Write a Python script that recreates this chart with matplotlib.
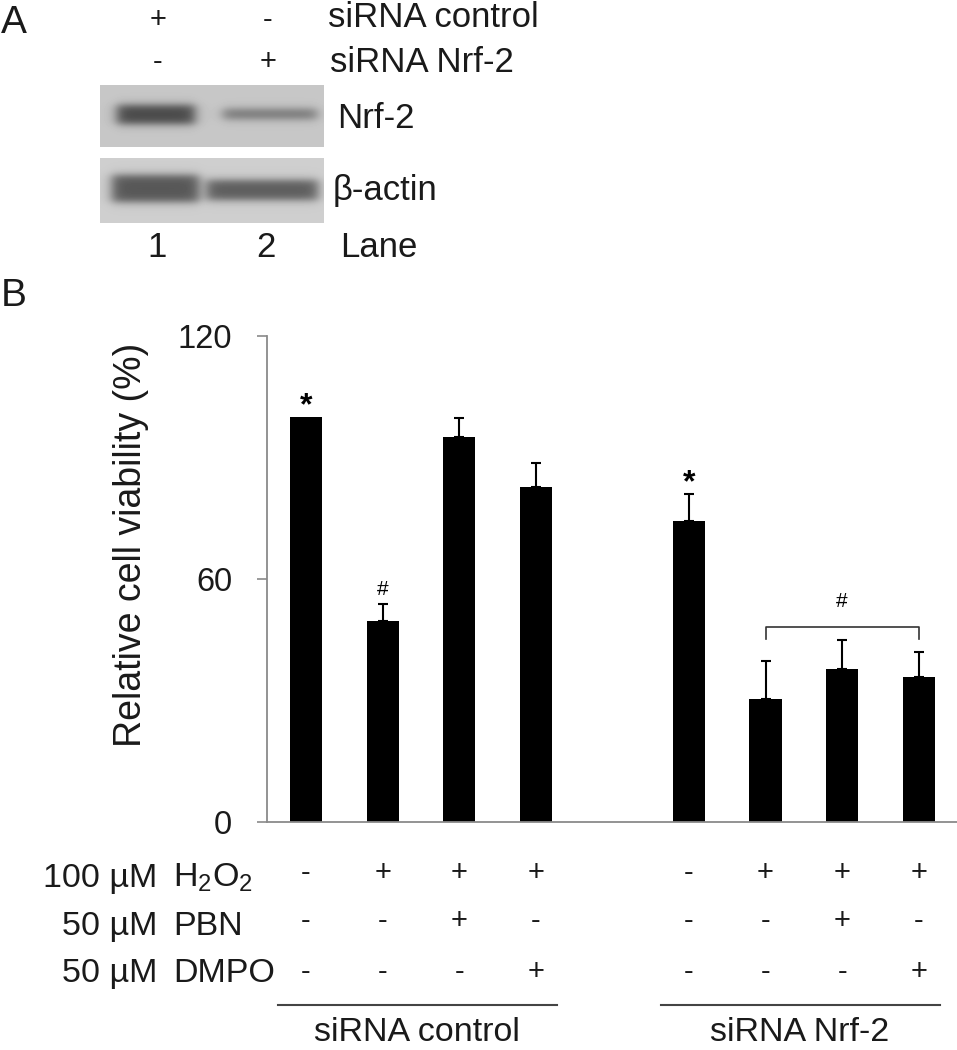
import matplotlib
matplotlib.use("Agg")
import matplotlib.pyplot as plt
import matplotlib.transforms as mtransforms
import numpy as np

plt.rcParams['font.family'] = ['Liberation Sans', 'DejaVu Sans']
plt.rcParams['mathtext.fontset'] = 'custom'
plt.rcParams['mathtext.rm'] = 'Liberation Sans'
plt.rcParams['mathtext.it'] = 'Liberation Sans'

# ---- data (panel B) ----
group_names = ["siRNA control", "siRNA Nrf-2"]
slots = [0, 1, 2, 3, 5, 6, 7, 8]
viability = [100.0, 49.6, 95.0, 82.7, 74.3, 30.3, 37.7, 35.6]
viability_err = [0.0, 4.2, 4.8, 6.0, 6.7, 9.4, 7.1, 6.3]
treat_labels = [("100 µM", r"H$_\mathregular{2}$O$_\mathregular{2}$"),
                ("50 µM", "PBN"),
                ("50 µM", "DMPO")]
h2o2 = ['-', '+', '+', '+', '-', '+', '+', '+']
pbn = ['-', '-', '+', '-', '-', '-', '+', '-']
dmpo = ['-', '-', '-', '+', '-', '-', '-', '+']
star_bars = [0, 4]
hash_bars = [1]
hash_group = [5, 6, 7]

# ---- data (panel A, western blot) ----
lane_numbers = ["1", "2"]
sirna_ctrl = ['+', '-']
sirna_nrf2 = ['-', '+']
blot_names = ["Nrf-2", "β-actin"]

fig = plt.figure(figsize=(9.57, 10.5), dpi=100)

# overlay in pixel coords for the free text and the blot
ov = fig.add_axes([0, 0, 1, 1])
ov.set_xlim(0, 957)
ov.set_ylim(1050, 0)
ov.axis('off')

# main bar chart
ax = fig.add_axes([267 / 957, (1050 - 821.5) / 1050, (957 - 267) / 957, (821.5 - 336) / 1050])
ax.bar(slots, viability, width=0.42, color='black', edgecolor='none', zorder=2)
e_slots = [s for s, e in zip(slots, viability_err) if e > 0]
e_vals = [v for v, e in zip(viability, viability_err) if e > 0]
e_errs = [e for e in viability_err if e > 0]
ax.errorbar(e_slots, e_vals, yerr=[np.zeros(len(e_errs)), e_errs], fmt='none',
            ecolor='black', elinewidth=1.5, capsize=3.6, capthick=1.5, zorder=3)
ax.set_xlim(-0.51, 8.5)
ax.set_ylim(0, 120)
ax.set_yticks([0, 60, 120])
ax.set_xticks([])
for sp in ['top', 'right']:
    ax.spines[sp].set_visible(False)
for sp in ['left', 'bottom']:
    ax.spines[sp].set_color('#8a8a8a')
    ax.spines[sp].set_linewidth(1.3)
ax.tick_params(axis='y', length=7.2, width=1.2, color='#8a8a8a', pad=18,
               labelsize=23.5, labelcolor='#1a1a1a')

for i in star_bars:
    ax.text(slots[i], viability[i] + viability_err[i] + 2.6, '*', ha='center',
            va='center', fontsize=23, fontweight='bold')
for i in hash_bars:
    ax.text(slots[i], viability[i] + viability_err[i] + 3.5, '#', ha='center',
            va='center', fontsize=15)
gx = [slots[i] for i in hash_group]
ax.plot([gx[0], gx[0], gx[-1], gx[-1]], [45.1, 48, 48, 45.1], color='#333333', lw=1.2)
ax.text(np.mean(gx), 54.5, '#', ha='center', va='center', fontsize=15)

# y label placed in pixel space to sit where the reference has it
ov.text(131, 545, "Relative cell viability (%)", rotation=90, ha='center',
        va='center', fontsize=27, color='#1a1a1a')

# treatment table under the bars
mix = mtransforms.blended_transform_factory(ax.transData, ov.transData)
row_y = [887, 935, 982]
sign_y = [873, 921, 972]
for (amount, comp), y in zip(treat_labels, row_y):
    ov.text(157, y, amount, ha='right', va='baseline', fontsize=24.5, color='#1a1a1a')
    ov.text(173, y, comp, ha='left', va='baseline', fontsize=24.5, color='#1a1a1a')
for signs, y in zip([h2o2, pbn, dmpo], sign_y):
    for s, sg in zip(slots, signs):
        ax.text(s, y, sg, transform=mix, ha='center', va='center', fontsize=21,
                color='#1a1a1a', clip_on=False)

groups = [slots[:4], slots[4:]]
for name, g in zip(group_names, groups):
    ax.plot([g[0] - 0.37, g[-1] + 0.28], [1005, 1005], transform=mix, color='#444444',
            lw=1.5, clip_on=False)
    ax.text(np.mean(g) - 0.05, 1041, name, transform=mix, ha='center', va='baseline',
            fontsize=24.5, color='#1a1a1a', clip_on=False)

# ---- panel A ----
ov.text(1, 33, "A", ha='left', va='baseline', fontsize=28, color='#1a1a1a')
ov.text(1, 306, "B", ha='left', va='baseline', fontsize=28, color='#1a1a1a')

lane_x = [158, 268]
for x, s1, s2 in zip(lane_x, sirna_ctrl, sirna_nrf2):
    ov.text(x, 20, s1, ha='center', va='center', fontsize=21, color='#1a1a1a')
    ov.text(x, 62, s2, ha='center', va='center', fontsize=21, color='#1a1a1a')
ov.text(328, 27, "siRNA control", ha='left', va='baseline', fontsize=25, color='#1a1a1a')
ov.text(330, 72, "siRNA Nrf-2", ha='left', va='baseline', fontsize=25, color='#1a1a1a')


def plateau(t, a, b, s):
    return 1 / (1 + np.exp(-(t - a) / s)) / (1 + np.exp((t - b) / s))


def blot(x0, x1, y0, y1, bg, bands):
    xs = np.arange(x0, x1) + 0.5
    ys = np.arange(y0, y1) + 0.5
    X, Y = np.meshgrid(xs, ys)
    img = np.full(X.shape, bg)
    for bx0, bx1, by0, by1, amp in bands:
        img = img - amp * plateau(X, bx0, bx1, 3.5) * plateau(Y, by0, by1, 2.4)
    ov.imshow(img, cmap='gray', vmin=0, vmax=1, extent=(x0, x1, y1, y0),
              origin='upper', aspect='auto', interpolation='bilinear')


blot(100, 324, 85, 147, 0.78, [(117, 195, 105, 124, 0.50), (223, 317, 109, 119, 0.33)])
blot(100, 324, 158, 223, 0.81, [(112, 199, 175, 202, 0.47), (207, 318, 180, 200, 0.45)])
ov.set_xlim(0, 957)
ov.set_ylim(1050, 0)

ov.text(337, 128, blot_names[0], ha='left', va='baseline', fontsize=25, color='#1a1a1a')
ov.text(333, 200, blot_names[1], ha='left', va='baseline', fontsize=25, color='#1a1a1a')
for x, n in zip([157, 266], lane_numbers):
    ov.text(x, 257, n, ha='center', va='baseline', fontsize=25, color='#1a1a1a')
ov.text(340, 257, "Lane", ha='left', va='baseline', fontsize=25, color='#1a1a1a')

fig.savefig("out.png", dpi=100)
